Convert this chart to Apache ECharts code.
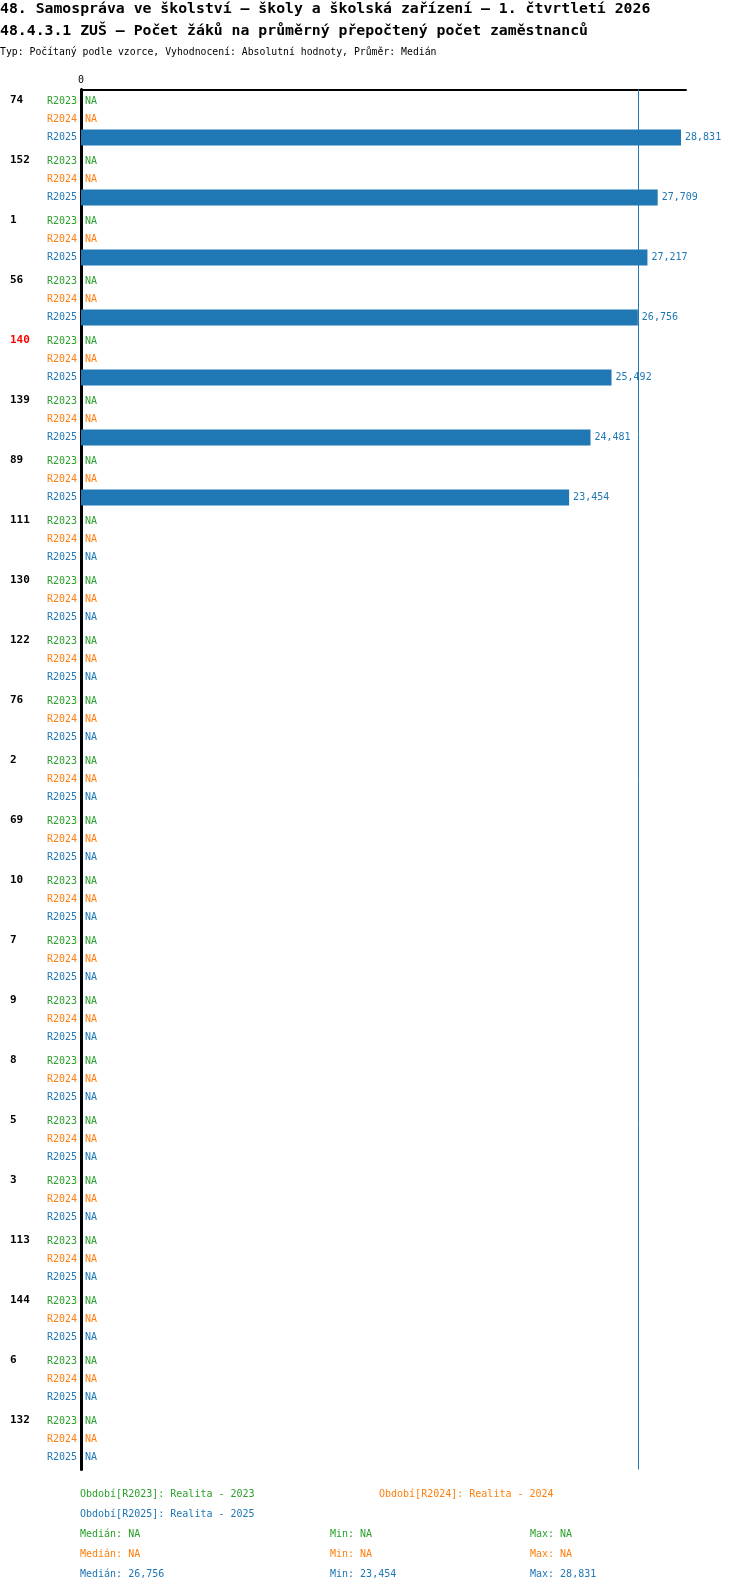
<!DOCTYPE html>
<html>
<head>
<meta charset="utf-8">
<script src="https://cdn.jsdelivr.net/npm/echarts@6/dist/echarts.min.js"></script>
<style>
  html, body { margin: 0; padding: 0; background: #fff; }
  #chart { width: 750px; height: 1592px; }
</style>
</head>
<body>
<div id="chart"></div>
<script>
// data
var groups = ['74', '152', '1', '56', '140', '139', '89', '111', '130', '122', '76', '2',
  '69', '10', '7', '9', '8', '5', '3', '113', '144', '6', '132'];
var highlightGroup = '140';
var periods = ['R2023', 'R2024', 'R2025'];
var periodNames = ['Realita - 2023', 'Realita - 2024', 'Realita - 2025'];
var periodColors = ['#2ca02c', '#ff7f0e', '#1f77b4'];
var valuesR2023 = [null, null, null, null, null, null, null, null, null, null, null, null,
  null, null, null, null, null, null, null, null, null, null, null];
var valuesR2024 = [null, null, null, null, null, null, null, null, null, null, null, null,
  null, null, null, null, null, null, null, null, null, null, null];
var valuesR2025 = [28.831, 27.709, 27.217, 26.756, 25.492, 24.481, 23.454, null, null, null, null, null,
  null, null, null, null, null, null, null, null, null, null, null];
var periodValues = [valuesR2023, valuesR2024, valuesR2025];

var titleLine1 = '48. Samospráva ve školství – školy a školská zařízení – 1. čtvrtletí 2026';
var titleLine2 = '48.4.3.1 ZUŠ – Počet žáků na průměrný přepočtený počet zaměstnanců';
var titleLine3 = 'Typ: Počítaný podle vzorce, Vyhodnocení: Absolutní hodnoty, Průměr: Medián';

var MONO = '"DejaVu Sans Mono", "Liberation Mono", monospace';
var ROW_STEP = 18;

function fmt(v) {
  return v.toFixed(3).replace('.', ',');
}

function stats(arr) {
  var vals = arr.filter(function (v) { return v !== null; }).sort(function (a, b) { return a - b; });
  if (!vals.length) return null;
  var n = vals.length;
  var med = n % 2 ? vals[(n - 1) / 2] : (vals[n / 2 - 1] + vals[n / 2]) / 2;
  return { median: med, min: vals[0], max: vals[n - 1] };
}

function makeRenderer(p) {
  return function (params, api) {
    var cat = api.value(0);
    var v = api.value(1);
    var base = api.coord([0, cat]);
    var y = base[1] + (p - 1) * ROW_STEP;
    var color = periodColors[p];
    var kids = [{
      type: 'text',
      style: { x: base[0] - 4, y: y, text: periods[p], fill: color, font: '10px ' + MONO,
        align: 'right', verticalAlign: 'middle' }
    }];
    if (v === null || isNaN(v)) {
      kids.push({
        type: 'text',
        style: { x: base[0] + 4, y: y, text: 'NA', fill: color, font: '10px ' + MONO,
          align: 'left', verticalAlign: 'middle' }
      });
    } else {
      var end = api.coord([v, cat]);
      kids.push({
        type: 'rect',
        shape: { x: base[0], y: y - 8, width: end[0] - base[0], height: 16 },
        style: { fill: color }
      });
      kids.push({
        type: 'text',
        style: { x: end[0] + 4, y: y, text: fmt(v), fill: color, font: '10px ' + MONO,
          align: 'left', verticalAlign: 'middle' }
      });
    }
    return { type: 'group', children: kids };
  };
}

var series = periods.map(function (name, p) {
  var st = stats(periodValues[p]);
  var s = {
    name: name,
    type: 'custom',
    clip: false,
    encode: { x: 1, y: 0 },
    renderItem: makeRenderer(p),
    data: periodValues[p].map(function (v, i) { return [i, v === null ? '-' : v]; })
  };
  if (st) {
    s.markLine = {
      silent: true,
      symbol: 'none',
      label: { show: false },
      lineStyle: { color: periodColors[p], width: 1, type: 'solid' },
      data: [{ xAxis: st.median }]
    };
  }
  return s;
});

// header, legend and summary rows
var graphics = [
  { type: 'text', x: 0, y: 9, style: { text: titleLine1, font: 'bold 14.8px ' + MONO, fill: '#000', verticalAlign: 'middle' } },
  { type: 'text', x: 0, y: 31, style: { text: titleLine2, font: 'bold 14.8px ' + MONO, fill: '#000', verticalAlign: 'middle' } },
  { type: 'text', x: 0, y: 52, style: { text: titleLine3, font: '9.8px ' + MONO, fill: '#000', verticalAlign: 'middle' } }
];
var legendPos = [[80, 1494], [379, 1494], [80, 1514]];
periods.forEach(function (name, p) {
  graphics.push({
    type: 'text', x: legendPos[p][0], y: legendPos[p][1],
    style: { text: 'Období[' + name + ']: ' + periodNames[p], fill: periodColors[p],
      font: '10px ' + MONO, verticalAlign: 'middle' }
  });
  var st = stats(periodValues[p]);
  var cols = [
    'Medián: ' + (st ? fmt(st.median) : 'NA'),
    'Min: ' + (st ? fmt(st.min) : 'NA'),
    'Max: ' + (st ? fmt(st.max) : 'NA')
  ];
  [80, 330, 530].forEach(function (x, c) {
    graphics.push({
      type: 'text', x: x, y: 1534 + p * 20,
      style: { text: cols[c], fill: periodColors[p], font: '10px ' + MONO, verticalAlign: 'middle' }
    });
  });
});

var chart = echarts.init(document.getElementById('chart'));
chart.setOption({
  animation: false,
  backgroundColor: '#fff',
  grid: { left: 81, right: 64, top: 89.5, bottom: 122.5 },
  xAxis: {
    type: 'value',
    position: 'top',
    min: 0,
    max: 29.07,
    interval: 29.07,
    axisLine: { show: true, lineStyle: { color: '#000', width: 2 } },
    axisTick: { show: false },
    splitLine: { show: false },
    axisLabel: {
      margin: 4,
      fontFamily: MONO, fontSize: 10, color: '#000',
      formatter: function (v) { return v === 0 ? '0' : ''; }
    }
  },
  yAxis: {
    type: 'category',
    inverse: true,
    data: groups,
    axisLine: { show: true, lineStyle: { color: '#000', width: 3 } },
    axisTick: { show: false },
    splitLine: { show: false },
    axisLabel: {
      align: 'left',
      margin: 71,
      formatter: function (v) {
        return (v === highlightGroup ? '{hl|' : '{n|') + v + '}\n{sp| }';
      },
      rich: {
        n: { fontFamily: MONO, fontSize: 11, fontWeight: 'bold', color: '#000', lineHeight: 14 },
        hl: { fontFamily: MONO, fontSize: 11, fontWeight: 'bold', color: '#ff0000', lineHeight: 14 },
        sp: { fontSize: 2, lineHeight: 38 }
      }
    }
  },
  graphic: graphics,
  series: series
});
</script>
</body>
</html>
